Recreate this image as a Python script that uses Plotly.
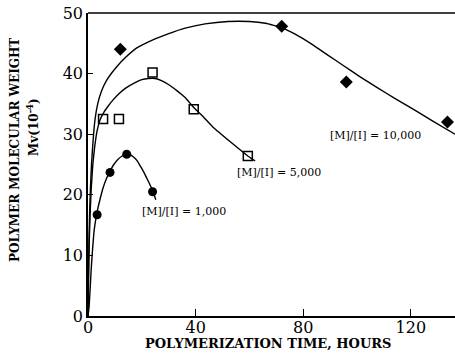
import plotly.graph_objects as go

# Measured data points
t_10k = [12, 72, 96, 133.6]
mw_10k = [44.0, 47.8, 38.6, 32.0]
t_5k = [5.6, 11.5, 24, 39.3, 59.4]
mw_5k = [32.5, 32.5, 40.2, 34.1, 26.4]
t_1k = [3.4, 8.2, 14.4, 24.0]
mw_1k = [16.7, 23.7, 26.7, 20.5]

# Hand-drawn fitted curves
cx_10k = [0, 0.15, 0.35, 0.6, 0.9, 1.3, 1.9, 2.6, 3.6, 5.1, 6.8, 8.8, 11, 13.8, 18, 23.7, 30, 36.1, 43.5, 52, 60, 66, 72, 77, 83, 89, 95, 101, 107.5, 114, 121, 128, 136.4]
cy_10k = [0, 6, 12, 17, 21, 25, 29, 32.4, 35.0, 37.2, 38.8, 40.1, 41.3, 42.6, 44.2, 45.5, 46.6, 47.5, 48.2, 48.6, 48.6, 48.3, 47.6, 46.5, 44.9, 43.1, 41.3, 39.5, 37.7, 35.9, 34.1, 32.2, 30.0]
cx_5k = [0, 0.2, 0.45, 0.8, 1.2, 1.8, 2.5, 3.4, 4.5, 6.0, 7.6, 9.4, 11.3, 14, 17.5, 20, 22.4, 25, 27.5, 29.9, 33, 36, 39.3, 43, 46.6, 53, 59.4, 61, 62.1]
cy_5k = [0, 6, 12, 17, 21, 25, 28, 30.6, 32.4, 33.7, 34.7, 35.7, 36.6, 37.6, 38.5, 39.0, 39.2, 39.2, 38.8, 38.2, 37.2, 36.1, 34.4, 32.8, 31.1, 28.7, 26.4, 25.9, 25.6]
cx_1k = [0, 0.4, 0.8, 1.2, 1.6, 2.3, 3.4, 4.5, 5.5, 6.8, 8.2, 9.6, 11, 12.7, 14.4, 15.8, 17, 18.3, 19.5, 20.8, 22, 23, 24.0, 25.2]
cy_1k = [0, 1.5, 4.5, 7.8, 10.4, 14.2, 17.2, 19.3, 21.0, 22.6, 23.9, 25.0, 25.8, 26.4, 26.7, 26.6, 26.2, 25.6, 24.7, 23.7, 22.6, 21.7, 20.7, 19.2]

labels = ["[M]/[I] = 10,000", "[M]/[I] = 5,000", "[M]/[I] = 1,000"]
label_x = [106.8, 71.1, 35.5]
label_y = [29.8, 23.7, 17.2]

x_ticks = [0, 40, 80, 120]
y_ticks = [0, 10, 20, 30, 40, 50]

SERIF = "DejaVu Serif"
fig = go.Figure()

for cx, cy in [(cx_10k, cy_10k), (cx_5k, cy_5k), (cx_1k, cy_1k)]:
    fig.add_trace(go.Scatter(x=cx, y=cy, mode="lines", line=dict(color="black", width=1.4, shape="spline", smoothing=0.3),
                             showlegend=False, hoverinfo="skip"))

fig.add_trace(go.Scatter(x=t_10k, y=mw_10k, mode="markers",
                         marker=dict(symbol="diamond", size=10, color="black"), showlegend=False))
fig.add_trace(go.Scatter(x=t_5k, y=mw_5k, mode="markers",
                         marker=dict(symbol="square-open", size=9, color="black", line=dict(width=1.5)), showlegend=False))
fig.add_trace(go.Scatter(x=t_1k, y=mw_1k, mode="markers",
                         marker=dict(symbol="circle", size=9, color="black"), showlegend=False))

for txt, lx, ly in zip(labels, label_x, label_y):
    fig.add_annotation(x=lx, y=ly, text=txt, showarrow=False, font=dict(family=SERIF, size=11, color="black"))

fig.add_annotation(xref="paper", yref="paper", x=(15 - 88) / 367, y=(316 - 150) / 303, xanchor="center", yanchor="middle",
                   text="<b>POLYMER MOLECULAR WEIGHT</b>", textangle=-90, showarrow=False,
                   font=dict(family=SERIF, size=12, color="black"))
fig.add_annotation(xref="paper", yref="paper", x=(33 - 88) / 367, y=(316 - 127) / 303, xanchor="center", yanchor="middle",
                   text="<b>Mv(10<sup>-4</sup>)</b>", textangle=-90, showarrow=False,
                   font=dict(family=SERIF, size=12, color="black"))
fig.add_annotation(xref="paper", yref="paper", x=(268 - 88) / 367, y=(316 - 343) / 303, xanchor="center", yanchor="middle",
                   text="<b>POLYMERIZATION TIME, HOURS</b>", showarrow=False,
                   font=dict(family=SERIF, size=13, color="black"))

fig.add_shape(type="line", xref="paper", yref="paper", x0=0, x1=1, y0=1, y1=1, line=dict(color="black", width=1.5))

fig.update_xaxes(range=[0, 136.4], tickvals=x_ticks, ticktext=[str(v) for v in x_ticks],
                 ticks="inside", ticklen=7, tickwidth=1.2, tickcolor="black",
                 showline=True, linecolor="black", linewidth=1.5, showgrid=False, zeroline=False,
                 tickfont=dict(family=SERIF, size=16, color="black"), ticklabelstandoff=-4)
fig.update_yaxes(range=[0, 50], tickvals=y_ticks, ticktext=[str(v) for v in y_ticks],
                 ticks="inside", ticklen=5, tickwidth=1.2, tickcolor="black",
                 showline=True, linecolor="black", linewidth=1.5, showgrid=False, zeroline=False,
                 tickfont=dict(family=SERIF, size=16, color="black"))

fig.update_layout(width=455, height=360, margin=dict(l=88, r=0, t=13, b=44),
                  plot_bgcolor="white", paper_bgcolor="white")

fig.write_html("out.html")
